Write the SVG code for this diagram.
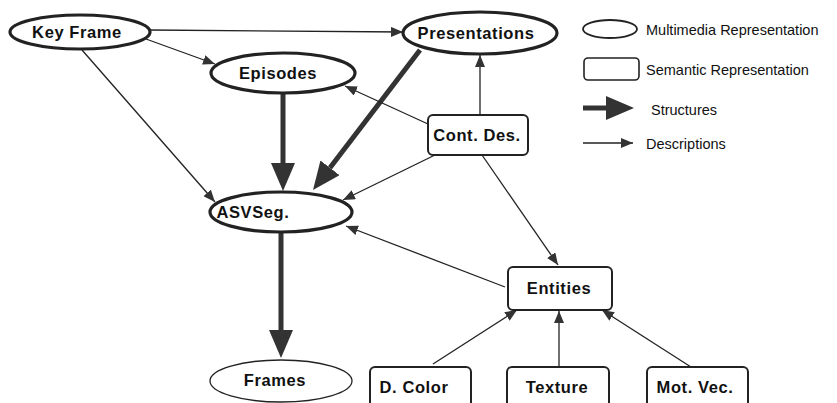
<svg xmlns="http://www.w3.org/2000/svg" width="837" height="403" viewBox="0 0 837 403">
<style>
.mm{fill:#fff;stroke:#222;stroke-width:3.2}
.mmt{fill:#fff;stroke:#222;stroke-width:1.3}
.sem{fill:#fff;stroke:#222;stroke-width:2}
.lbl{font-family:"Liberation Sans",Arial,sans-serif;font-weight:bold;font-size:16.5px;fill:#111;text-anchor:middle;letter-spacing:0.6px}
.leg{font-family:"Liberation Sans",Arial,sans-serif;font-size:14.5px;fill:#111}
.thin{stroke:#222;stroke-width:1.3;fill:none;marker-end:url(#ah)}
.thick{stroke:#333;stroke-width:5;fill:none;marker-end:url(#bh)}
</style>
<defs>
<marker id="ah" markerUnits="userSpaceOnUse" markerWidth="12" markerHeight="10" refX="12" refY="5" orient="auto" viewBox="0 0 12 10">
<path d="M0,0 L12,5 L0,10 z" fill="#333"/>
</marker>
<marker id="bh" markerUnits="userSpaceOnUse" markerWidth="28" markerHeight="24" refX="0" refY="12" orient="auto" viewBox="0 0 28 24">
<path d="M0,0 L28,12 L0,24 z" fill="#333"/>
</marker>
</defs>
<g id="connectors">
<line class="thin" x1="150" y1="30" x2="403" y2="32"/>
<line class="thin" x1="146" y1="39" x2="215" y2="64"/>
<line class="thin" x1="82" y1="50" x2="215" y2="202"/>
<line class="thick" x1="283" y1="94" x2="283" y2="163"/>
<line class="thick" x1="420" y1="50" x2="330" y2="167.8"/>
<line class="thick" x1="281" y1="233" x2="281" y2="330"/>
<line class="thin" x1="480" y1="115" x2="480" y2="55"/>
<line class="thin" x1="428" y1="124" x2="345" y2="86"/>
<line class="thin" x1="435" y1="155" x2="343" y2="200"/>
<line class="thin" x1="482" y1="155" x2="558" y2="265"/>
<line class="thin" x1="505" y1="287" x2="346" y2="226"/>
<line class="thin" x1="433" y1="364" x2="517" y2="310"/>
<line class="thin" x1="559" y1="367" x2="559" y2="311"/>
<line class="thin" x1="691" y1="367" x2="602" y2="310"/>
</g>
<g id="keyframe"><ellipse class="mm" cx="80" cy="32" rx="70" ry="17"/><text class="lbl" x="77" y="38">Key Frame</text></g>
<g id="episodes"><ellipse class="mm" cx="283" cy="73" rx="72" ry="20"/><text class="lbl" x="278" y="79">Episodes</text></g>
<g id="presentations"><ellipse class="mm" cx="480" cy="33" rx="77" ry="21"/><text class="lbl" x="476" y="39">Presentations</text></g>
<g id="contdes"><rect class="sem" x="428" y="115" width="100" height="40" rx="5"/><text class="lbl" x="477" y="141">Cont. Des.</text></g>
<g id="asvseg"><ellipse class="mm" cx="281" cy="212" rx="71" ry="20"/><text class="lbl" x="253" y="218">ASVSeg.</text></g>
<g id="frames"><ellipse class="mmt" cx="281" cy="381" rx="71" ry="21"/><text class="lbl" x="275" y="386">Frames</text></g>
<g id="entities"><rect class="sem" x="508" y="267" width="104" height="43" rx="5"/><text class="lbl" x="559" y="294">Entities</text></g>
<g id="dcolor"><rect class="sem" x="370" y="367" width="101" height="42" rx="5"/><text class="lbl" x="414" y="393">D. Color</text></g>
<g id="texture"><rect class="sem" x="507" y="367" width="102" height="42" rx="5"/><text class="lbl" x="557" y="393">Texture</text></g>
<g id="motvec"><rect class="sem" x="647" y="367" width="101" height="42" rx="5"/><text class="lbl" x="695" y="393">Mot. Vec.</text></g>
<g id="legend">
<ellipse class="mmt" cx="610" cy="29" rx="27" ry="9" style="stroke-width:1.8"/>
<text class="leg" x="646" y="35">Multimedia Representation</text>
<rect class="sem" x="584" y="58" width="55" height="22" rx="4" style="stroke-width:1.6"/>
<text class="leg" x="646" y="75">Semantic Representation</text>
<line class="thick" x1="583" y1="108" x2="606" y2="108"/>
<text class="leg" x="651" y="115">Structures</text>
<line class="thin" x1="583" y1="143" x2="633" y2="143"/>
<text class="leg" x="646" y="149">Descriptions</text>
</g>
</svg>
